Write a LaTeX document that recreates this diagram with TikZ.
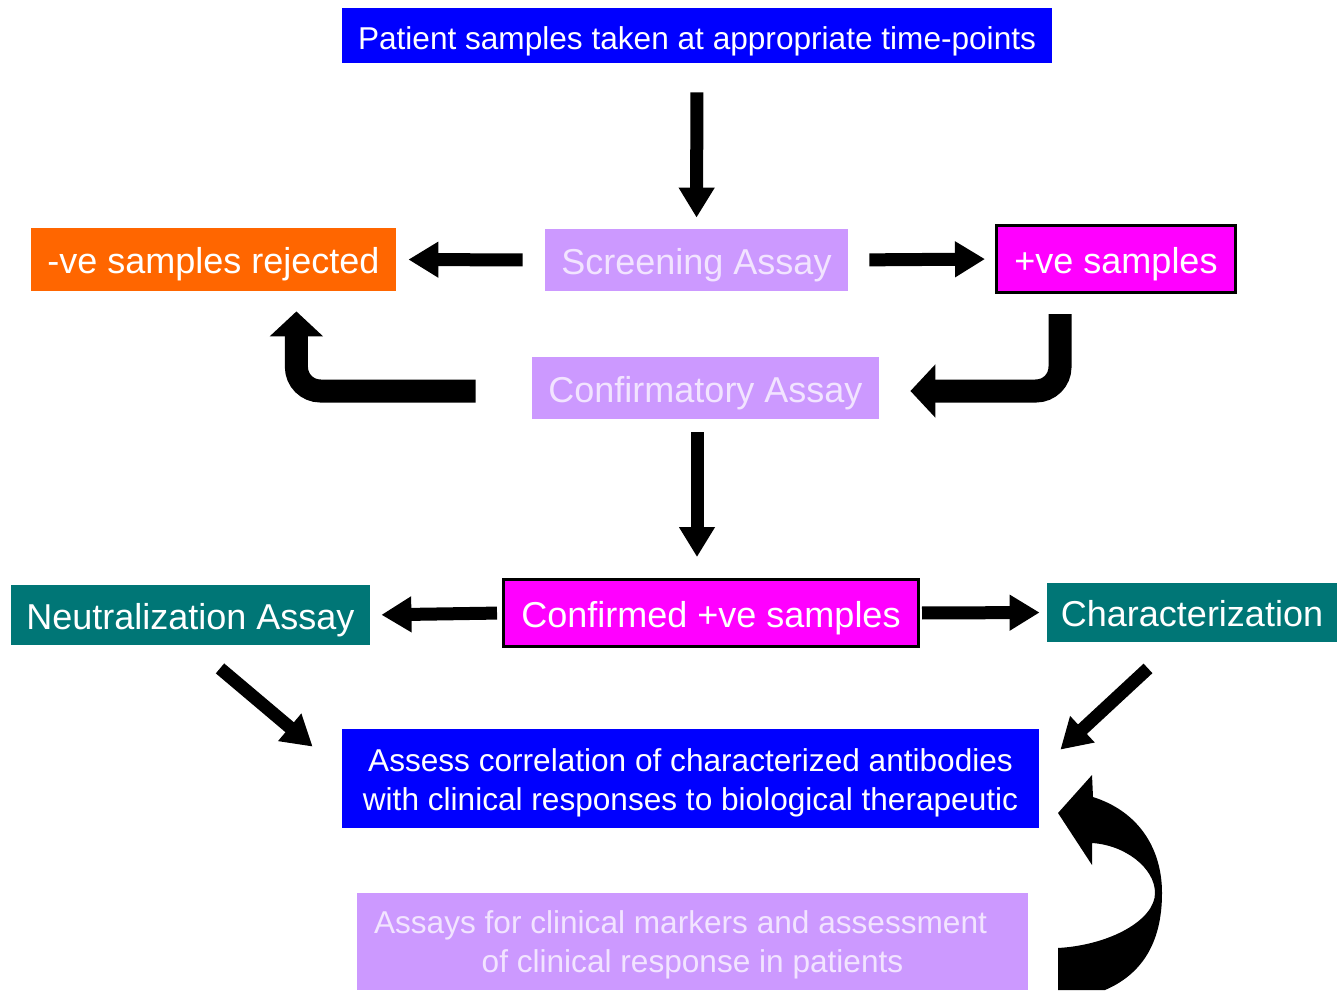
\documentclass[tikz,border=0pt]{standalone}
\usepackage{fontspec}
\setmainfont{Liberation Sans}
\usepackage{xcolor}
\usetikzlibrary{arrows.meta,positioning,calc}

\definecolor{boxblue}{RGB}{0,0,255}
\definecolor{boxorange}{RGB}{255,102,0}
\definecolor{boxpink}{RGB}{255,0,255}
\definecolor{boxteal}{RGB}{0,118,118}
\definecolor{boxlilac}{RGB}{204,153,255}
\definecolor{lilactext}{RGB}{242,228,255}

\tikzset{
  lbl/.style={inner sep=0pt, text height=14pt, text depth=0pt, font=\fontsize{18pt}{21pt}\selectfont},
  big/.style={inner sep=0pt, align=center, font=\fontsize{15.8pt}{19.5pt}\selectfont},
  fat/.style={line width=6.5pt, -{Triangle[length=15pt,width=17pt]}},
  bent/.style={line width=11.5pt, rounded corners=12pt, -{Triangle[length=12.5pt,width=26pt]}}
}

\begin{document}
\begin{tikzpicture}[x=0.5pt,y=-0.5pt]
\useasboundingbox (0,0) rectangle (1337,990);

% Sample flow boxes
\node[big, fill=boxblue, text=white, minimum width=355pt, minimum height=27.5pt, text height=14.3pt, text depth=0pt] (patient) at (697,35.5) {Patient samples taken at appropriate time-points};
\node[lbl, fill=boxlilac, text=lilactext, minimum width=151.5pt, minimum height=31pt] (screen) at (696.5,260) {Screening Assay};
\node[lbl, fill=boxorange, text=white, minimum width=182.5pt, minimum height=31.5pt] (reject) at (213.5,259.5) {-ve samples rejected};
\node[lbl, draw=black, line width=1.5pt, fill=boxpink, text=white, minimum width=119.5pt, minimum height=33.5pt] (plus) at (1116,259) {+ve samples};
\node[lbl, fill=boxlilac, text=lilactext, minimum width=173.5pt, minimum height=31pt] (confirm) at (705.5,388) {Confirmatory Assay};
\node[lbl, draw=black, line width=1.5pt, fill=boxpink, text=white, minimum width=207.5pt, minimum height=33.5pt] (confirmed) at (711,613) {Confirmed +ve samples};
\node[lbl, fill=boxteal, text=white, minimum width=179.5pt, minimum height=30pt] (neutral) at (190.5,615) {Neutralization Assay};
\node[lbl, fill=boxteal, text=white, minimum width=145pt, minimum height=29.5pt] (charac) at (1192,612.5) {Characterization};
\node[big, fill=boxblue, text=white, minimum width=348.5pt, minimum height=49.5pt] (assess) at (690.5,778.5) {\raisebox{-2.5pt}[\height][\depth]{\begin{tabular}{@{}c@{}}Assess correlation of characterized antibodies\\with clinical responses to biological therapeutic\end{tabular}}};
\node[big, fill=boxlilac, text=lilactext, minimum width=335.5pt, minimum height=48.5pt] (assays) at (692.5,941.5) {\raisebox{-2pt}[\height][\depth]{\begin{tabular}{@{}c@{}}Assays for clinical markers and assessment\hspace*{12pt}\\of clinical response in patients\end{tabular}}};

\draw[fat, shorten <=14.5pt, shorten >=5.5pt] (patient.south) -- (screen.north);
\draw[fat, shorten <=11pt, shorten >=6pt] (screen.west) -- (reject.east);
\draw[fat, shorten <=10.5pt, shorten >=5pt] (screen.east) -- (plus.west);
\draw[bent] ($(confirm.west)+(-56,3)$) -| ($(reject.south east)+(-100,20)$);
\draw[bent] ($(plus.south)+(-56,20)$) |- ($(confirm.east)+(31,3)$);
\draw[fat] ($(confirm.south)+(-8.5,13)$) -- ($(confirmed.north)+(-14,-21)$);
\draw[fat, shorten <=2.5pt, shorten >=5.5pt] (confirmed.west) -- (neutral.east);
\draw[fat, shorten <=1pt, shorten >=3.5pt] (confirmed.east) -- (charac.west);
\draw[fat] ($(neutral.south)+(29.5,23)$) -- ($(assess.north west)+(-29,18)$);
\draw[fat] ($(charac.south)+(-44,26)$) -- ($(assess.north east)+(21,21)$);

\coordinate (loopend) at (1058,990);
\fill (1058,813) -- (1092,775) -- (1093,797) .. controls (1140,812) and (1162,850) .. (1162,893)
  .. controls (1162,945) and (1140,975) .. (1105,990) -- (loopend) -- (1058,948)
  .. controls (1110,945) and (1155,920) .. (1155,893) .. controls (1155,868) and (1125,845) .. (1092,843)
  -- (1092,865) -- cycle;
\end{tikzpicture}
\end{document}
